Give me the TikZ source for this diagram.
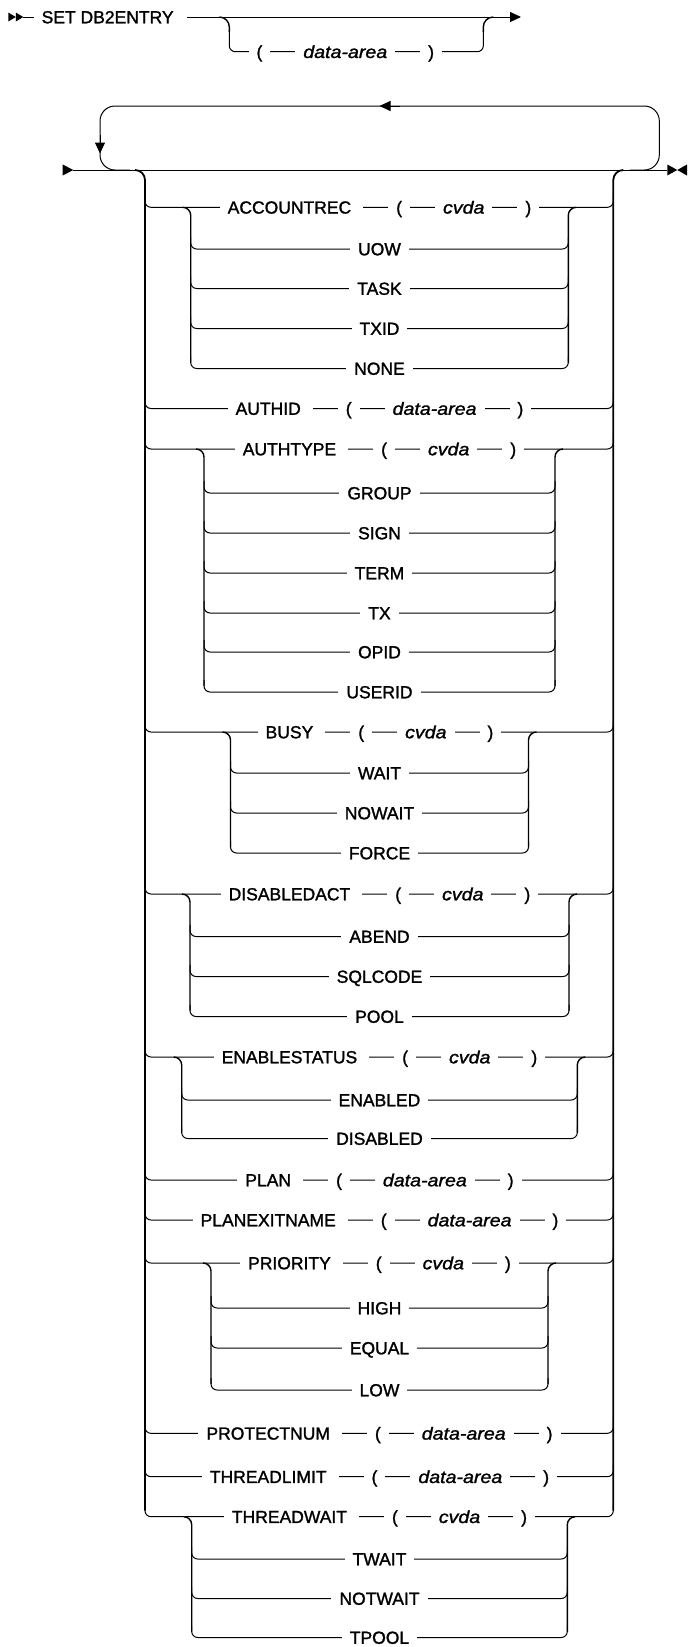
\documentclass[tikz,border=0pt]{standalone}
\usepackage{fontspec}
\setmainfont{Liberation Sans}[FakeBold=1.4, ItalicFeatures={FakeStretch=1.12, FakeBold=1.4}]
\usetikzlibrary{arrows.meta}
\newcommand\rowfont{\fontsize{17.5}{20}\selectfont}
\setlength{\fboxsep}{0pt}
\newcommand\tkk[3]{\colorbox{white}{\kern#1\strut#3\kern#2}}
\newcommand\kwd[1]{\tkk{8pt}{12pt}{#1}}
\newcommand\kws[1]{\tkk{8pt}{8pt}{#1}}
\newcommand\myopen{\tkk{8pt}{8pt}{(}}
\newcommand\myclose{\tkk{8pt}{8pt}{)}}
\newcommand\varg[1]{\tkk{8pt}{8pt}{\itshape #1}}
\newcommand\ds{\hspace{25pt}}
\newcommand\argrow[2]{\kwd{#1}\ds\myopen\ds\varg{#2}\ds\myclose}
\tikzset{
  ln/.style={line width=1pt},
  outerv/.style={line width=1.8pt},
  innerv/.style={line width=1.4pt},
  rowtxt/.style={anchor=base, inner sep=0pt, font=\rowfont},
  tip/.style={-{Triangle[length=11pt,width=10pt]}},
}
\newcommand\toprow[3]{%
  \draw[ln,rounded corners=6pt] (145,#2-12) |- (379.5,#2) -| (613.3,#2-12);
  \node[rowtxt] (#1) at (379.5,#2+6.27) {#3};}
\newcommand\subrow[5]{%
  \draw[ln,rounded corners=6pt] (#3,#2-12) |- (379.5,#2) -| (#4,#2-12);
  \node[rowtxt] (#1) at (379.5,#2+6.27) {#5};}
\newcommand\grp[4]{%
  \draw[innerv,rounded corners=8pt] (#3-8,#1) -- (#3,#1) -- (#3,#2-6);
  \draw[innerv,rounded corners=8pt] (#4+8,#1) -- (#4,#1) -- (#4,#2-6);}
\begin{document}
\begin{tikzpicture}[x=1pt,y=-1pt]
\fill[white] (0,0) rectangle (688,1647);
\useasboundingbox (0,0) rectangle (688,1647);

% ---------- first line ----------
\fill (8.3,12.5) -- (15.8,17) -- (8.3,21.5) -- cycle;
\fill (15.8,12.5) -- (23.3,17) -- (15.8,21.5) -- cycle;
\coordinate (tstart) at (23.3,17);
\coordinate (tend) at (521,17);
\draw[ln,tip] (tstart) -- (tend);
\node[anchor=base west, inner sep=0pt, font=\rowfont] (title) at (33.5,23.27) {\tkk{8pt}{13pt}{SET DB2ENTRY}};
\draw[innerv,rounded corners=10pt] (219.3,17) -- (229.3,17) -- (229.3,32);
\draw[ln,rounded corners=6pt] (229.3,30) |- (356,51.7) -| (483.3,30);
\draw[innerv,rounded corners=10pt] (483.3,32) -- (483.3,17) -- (493.3,17);
\node[anchor=base west, inner sep=0pt, font=\rowfont] (opt) at (248.3,57.97) {\myopen\ds\varg{data-area}\ds\myclose};

% ---------- main line and repeat loop ----------
\fill (62.7,164.5) -- (73.3,170) -- (62.7,175.5) -- cycle;
\coordinate (mstart) at (73.3,170);
\coordinate (mend) at (667.3,170);
\draw[ln] (mstart) -- (mend);
\fill (667.3,164.5) -- (677.3,170) -- (667.3,175.5) -- cycle;
\fill (687,164.5) -- (677.3,170) -- (687,175.5) -- cycle;
\draw[ln,rounded corners=15pt] (130,170) -- (100,170) -- (100,106) -- (659.3,106) -- (659.3,170) -- (630,170);
\draw[ln,tip] (100,135) -- (100,153.5);
\draw[ln,tip] (400,106) -- (379.5,106);

% ---------- rows ----------
\toprow{r0}{207.3}{\argrow{ACCOUNTREC}{cvda}}
\subrow{r1}{249}{190.7}{568.3}{\kws{UOW}}
\subrow{r2}{288.5}{190.7}{568.3}{\kws{TASK}}
\subrow{r3}{328.5}{190.7}{568.3}{\kws{TXID}}
\subrow{r4}{368.5}{190.7}{568.3}{\kws{NONE}}
\grp{207.3}{368.5}{190.7}{568.3}

\toprow{r5}{408.5}{\argrow{AUTHID}{data-area}}

\toprow{r6}{449}{\argrow{AUTHTYPE}{cvda}}
\subrow{r7}{493}{204}{555}{\kws{GROUP}}
\subrow{r8}{533}{204}{555}{\kws{SIGN}}
\subrow{r9}{573}{204}{555}{\kws{TERM}}
\subrow{r10}{613}{204}{555}{\kws{TX}}
\subrow{r11}{652}{204}{555}{\kws{OPID}}
\subrow{r12}{692}{204}{555}{\kws{USERID}}
\grp{449}{692}{204}{555}

\toprow{r13}{732}{\argrow{BUSY}{cvda}}
\subrow{r14}{773}{230.5}{528.5}{\kws{WAIT}}
\subrow{r15}{813}{230.5}{528.5}{\kws{NOWAIT}}
\subrow{r16}{853}{230.5}{528.5}{\kws{FORCE}}
\grp{732}{853}{230.5}{528.5}

\toprow{r17}{894}{\argrow{DISABLEDACT}{cvda}}
\subrow{r18}{936.5}{190}{569}{\kws{ABEND}}
\subrow{r19}{976.5}{190}{569}{\kws{SQLCODE}}
\subrow{r20}{1016.5}{190}{569}{\kws{POOL}}
\grp{894}{1016.5}{190}{569}

\toprow{r21}{1057}{\argrow{ENABLESTATUS}{cvda}}
\subrow{r22}{1100}{181.7}{577.3}{\kws{ENABLED}}
\subrow{r23}{1138.5}{181.7}{577.3}{\kws{DISABLED}}
\grp{1057}{1138.5}{181.7}{577.3}

\toprow{r24}{1180}{\argrow{PLAN}{data-area}}
\toprow{r25}{1220}{\argrow{PLANEXITNAME}{data-area}}

\toprow{r26}{1263}{\argrow{PRIORITY}{cvda}}
\subrow{r27}{1308}{211}{548}{\kws{HIGH}}
\subrow{r28}{1348}{211}{548}{\kws{EQUAL}}
\subrow{r29}{1390}{211}{548}{\kws{LOW}}
\grp{1263}{1390}{211}{548}

\toprow{r30}{1433.3}{\argrow{PROTECTNUM}{data-area}}
\toprow{r31}{1476.7}{\argrow{THREADLIMIT}{data-area}}

\toprow{r32}{1516.7}{\argrow{THREADWAIT}{cvda}}
\subrow{r33}{1559}{191.7}{567.3}{\kws{TWAIT}}
\subrow{r34}{1598.5}{191.7}{567.3}{\kws{NOTWAIT}}
\subrow{r35}{1637.5}{191.7}{567.3}{\kws{TPOOL}}
\grp{1516.7}{1637.5}{191.7}{567.3}

% ---------- outer brackets ----------
\draw[outerv,rounded corners=10pt] (135,170) -- (145,170) -- (145,1510.7);
\draw[outerv,rounded corners=10pt] (623.3,170) -- (613.3,170) -- (613.3,1510.7);
\end{tikzpicture}
\end{document}
